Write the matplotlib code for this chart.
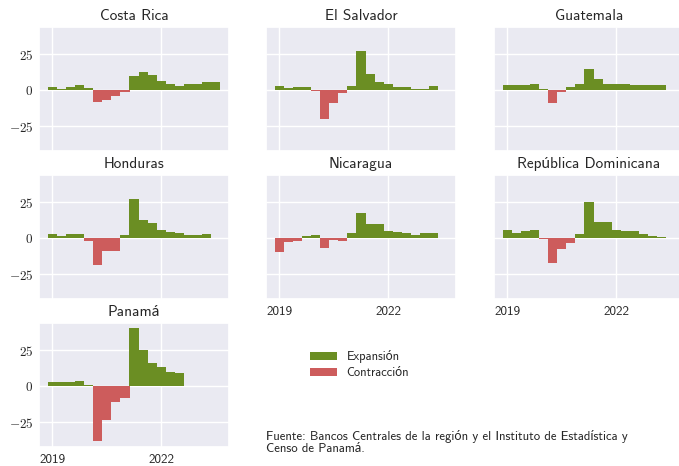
import matplotlib
matplotlib.use("Agg")
import matplotlib.pyplot as plt
import matplotlib.dates as mdates
import matplotlib.ticker as mticker
from matplotlib.patches import Patch
import numpy as np
import pandas as pd
import seaborn as sns

sns.set_theme(style="darkgrid")
plt.rcParams['font.family'] = ['cmss10', 'Lato', 'DejaVu Sans']
plt.rcParams['mathtext.fontset'] = 'cm'
plt.rcParams['axes.unicode_minus'] = True

# ---- data (quarterly growth, %), starting 2019Q1 ----
countries = ["Costa Rica", "El Salvador", "Guatemala", "Honduras",
             "Nicaragua", "República Dominicana", "Panamá"]

costa_rica = [2.1, 0.7, 2.1, 3.5, 1.4, -8.3, -6.7, -3.9, -1.2, 9.7, 12.5, 10.4,
              6.3, 4.2, 2.8, 4.2, 4.2, 5.6, 5.6]
el_salvador = [2.8, 1.4, 2.1, 2.1, -0.4, -19.9, -8.8, -2.1, 2.8, 27.1, 11.1, 5.6,
               4.2, 2.1, 2.1, 0.7, 0.7, 2.8]
guatemala = [3.5, 3.5, 3.5, 4.2, 0.7, -9.0, -1.4, 2.1, 4.2, 14.6, 7.6, 4.2,
             4.2, 4.2, 3.5, 3.5, 3.5, 3.5]
honduras = [3.0, 1.6, 3.0, 3.0, -1.6, -18.6, -8.4, -8.4, 2.3, 27.4, 12.8, 10.7,
            5.8, 4.4, 3.7, 2.3, 2.3, 3.0]
nicaragua = [-9.3, -2.5, -1.6, 1.6, 2.3, -6.7, -1.2, -1.6, 3.7, 17.6, 10.0, 10.0,
             5.1, 4.4, 3.7, 2.3, 3.7, 3.7]
rep_dominicana = [5.8, 3.7, 5.1, 5.8, -0.5, -17.1, -7.4, -3.2, 3.0, 25.2, 11.3, 11.3,
                  5.8, 5.1, 5.1, 3.0, 1.6, 0.9]
panama = [3.3, 3.1, 2.8, 4.0, 1.2, -37.9, -23.0, -10.7, -7.9, 40.2, 25.6, 16.5,
          13.7, 10.2, 9.5]

series = [costa_rica, el_salvador, guatemala, honduras, nicaragua, rep_dominicana, panama]
start_date = "2019-01-01"

legend_labels = ["Expansión", "Contracción"]
source_text = ("Fuente: Bancos Centrales de la región y el Instituto de Estadística y\n"
               "Censo de Panamá.")

pos_color = "#6B8E23"
neg_color = "#CD5C5C"

# ---- layout ----
W, H = 679, 466
fig = plt.figure(figsize=(W / 100, H / 100), dpi=100)

col_left = [39, 266, 494]
row_top = [27, 175, 323]
aw, ah = 190, 124

axes = []
ref = None
for i, (name, vals) in enumerate(zip(countries, series)):
    r, c = divmod(i, 3)
    rect = [col_left[c] / W, 1 - (row_top[r] + ah) / H, aw / W, ah / H]
    ax = fig.add_axes(rect, sharex=ref, sharey=ref)
    if ref is None:
        ref = ax
    axes.append(ax)
    dates = pd.date_range(start_date, periods=len(vals), freq="QS")
    v = np.array(vals)
    colors = [pos_color if x >= 0 else neg_color for x in v]
    ax.bar(dates, v, width=91, color=colors, align="center", linewidth=0)
    ax.set_title(name, fontsize=11, color=".15", pad=5)
    ax.tick_params(axis="both", labelsize=9.5, colors=".15", length=0)
    ax.tick_params(axis="x", pad=5)
    ax.tick_params(axis="y", pad=4)

ref.xaxis.set_major_locator(mdates.YearLocator(3))
ref.xaxis.set_major_formatter(mdates.DateFormatter("%Y"))
ref.yaxis.set_major_locator(mticker.FixedLocator([-25, 0, 25]))
ref.yaxis.set_major_formatter(mticker.FuncFormatter(lambda v, p: f"${v:.0f}$"))
ref.set_ylim(-42, 44)

for i, ax in enumerate(axes):
    r, c = divmod(i, 3)
    if c != 0:
        ax.tick_params(axis="y", labelleft=False)
    show_x = (i == 6) or (i in (4, 5))
    if not show_x:
        ax.tick_params(axis="x", labelbottom=False)

handles = [Patch(facecolor=pos_color, label=legend_labels[0], linewidth=0),
           Patch(facecolor=neg_color, label=legend_labels[1], linewidth=0)]
fig.legend(handles=handles, loc="upper left", bbox_to_anchor=(299 / W, 1 - 339 / H),
           frameon=False, fontsize=9, handlelength=2.1, labelspacing=0.32,
           handletextpad=0.8, borderpad=0.4)

fig.text(266 / W, 1 - 430 / H, source_text, fontsize=9.2, color=".15",
         ha="left", va="top", linespacing=0.98)

fig.savefig("out.png", dpi=100)
